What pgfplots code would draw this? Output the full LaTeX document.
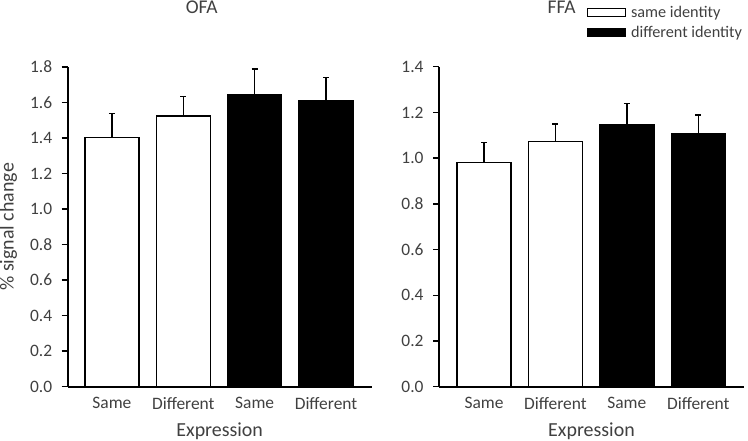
\documentclass[border=0pt]{standalone}
\usepackage{pgfplots}
\pgfplotsset{compat=1.18}
\usepackage{fontspec}
\setmainfont{Carlito}
\definecolor{txt}{HTML}{404040}
\pgfplotsset{
  barstyle/.style={
    scale only axis,
    ybar, bar shift=0pt, bar width=54bp,
    axis lines=left,
    axis line style={-, line width=1.8bp, black},
    xtick={0,1,2,3},
    xticklabels={Same,Different,Same,Different},
    xtick style={draw=none},
    ytick style={line width=1.5bp, black},
    tick align=outside,
    major tick length=6bp,
    ymin=0,
    /pgf/number format/.cd, fixed, fixed zerofill, precision=1, assume math mode=true,
    /pgfplots/.cd,
    ticklabel style={font=\fontsize{17.5}{21}\selectfont, text=txt},
    yticklabel style={xshift=-6bp},
    xticklabel style={yshift=-1bp},
    label style={font=\fontsize{20}{24}\selectfont, text=txt},
    every axis title shift=0pt,
    title style={font=\fontsize{19.5}{24}\selectfont, text=txt, anchor=center},
    xlabel={Expression},
    xlabel style={at={(0.5,-0.138)}, anchor=center},
    clip=false,
    legend image code/.code={\draw[#1, line width=1.2bp] (0bp,-3.75bp) rectangle (38bp,3.75bp);},
  },
  eb/.style={
    error bars/.cd, y dir=plus, y explicit,
    error bar style={line width=1.5bp, black},
    error mark options={line width=1.5bp, mark size=3bp, black, rotate=90},
  }
}
\begin{document}
\begin{tikzpicture}
\path[use as bounding box] (0,0) rectangle (748bp,441bp);
\begin{axis}[barstyle,
  at={(67.7bp,54.3bp)}, anchor=south west,
  width=304bp, height=319.7bp,
  xmin=-0.62, xmax=3.64,
  ymax=1.8, ytick={0,0.2,...,1.81},
  title={OFA}, title style={at={(0.441,1.187)}},
  ylabel={\% signal change},
  ylabel style={at={(-0.195,0.5)}, anchor=center, rotate=0},
]
\addplot[fill=white, draw=black, line width=1.5bp, eb] table[x=x, y=y, y error=e] {
x y e
0 1.404 0.133
1 1.524 0.111
};
\addplot[fill=black, draw=black, line width=1.5bp, eb] table[x=x, y=y, y error=e] {
x y e
2 1.646 0.144
3 1.610 0.132
};
\end{axis}
\begin{axis}[barstyle,
  at={(439bp,54.3bp)}, anchor=south west,
  width=305bp, height=320bp,
  xmin=-0.63, xmax=3.64,
  ymax=1.4, ytick={0,0.2,...,1.41},
  title={FFA}, title style={at={(0.402,1.187)}},
  legend style={at={(0.484,1.196)}, anchor=north west, draw=none, fill=none,
    inner sep=0pt, font=\fontsize{16.3}{20}\selectfont, text=txt,
    row sep=3bp, nodes={inner sep=2bp},
    /tikz/every odd column/.append style={column sep=3bp}},
  legend cell align=left,
]
\addplot[fill=white, draw=black, line width=1.5bp, eb] table[x=x, y=y, y error=e] {
x y e
0 0.980 0.089
1 1.073 0.076
};
\addplot[fill=black, draw=black, line width=1.5bp, eb] table[x=x, y=y, y error=e] {
x y e
2 1.148 0.090
3 1.108 0.080
};
\legend{same identity, different identity}
\end{axis}
\end{tikzpicture}
\end{document}
